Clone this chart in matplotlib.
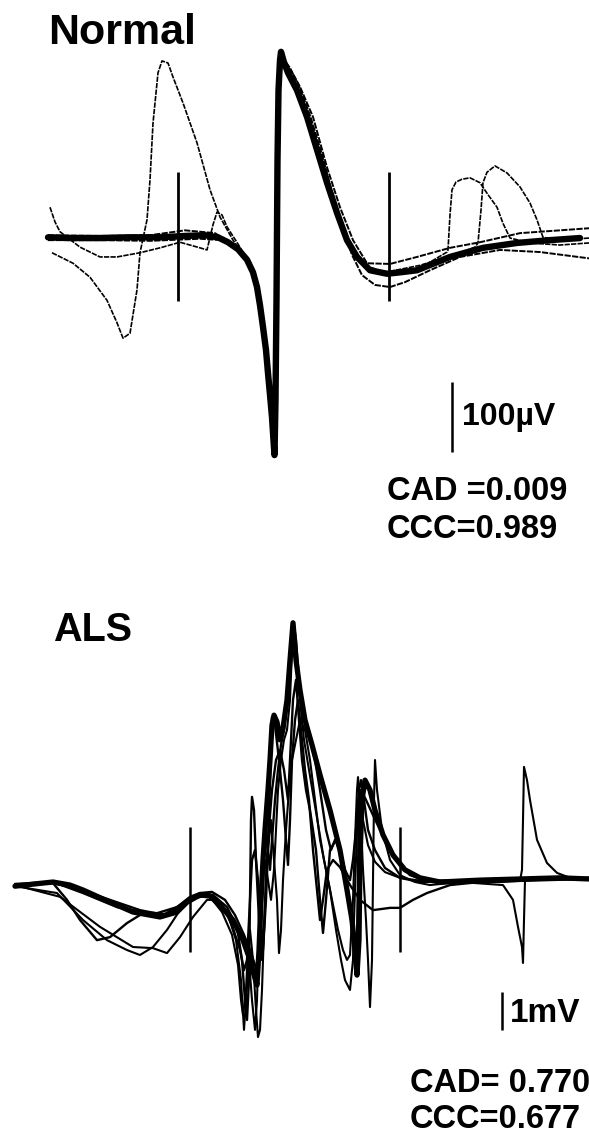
import matplotlib
matplotlib.use("Agg")
import matplotlib.pyplot as plt

plt.rcParams['font.family'] = ['Liberation Sans', 'DejaVu Sans']

# ---------------- Normal muscle: superimposed MUP sweeps (time ms, amplitude uV)
NORMAL_SWEEP_MAIN = [
    (4.8, 1), (7.0, 0), (10.0, 0), (13.0, 1), (16.0, 1), (18.5, 3), (20.5, 4),
    (21.8, 1), (22.8, -6), (23.8, -16), (24.7, -31), (25.3, -49), (25.7, -70),
    (26.0, -96), (26.3, -127), (26.6, -160), (26.8, -193), (27.0, -224),
    (27.2, -256), (27.35, -289), (27.45, -310), (27.55, -231), (27.65, -89),
    (27.75, 111), (27.85, 211), (28.0, 254), (28.1, 266), (28.4, 251),
    (28.8, 236), (29.7, 211), (30.7, 173), (31.7, 126), (32.7, 79), (33.7, 36),
    (34.7, -3), (35.7, -27), (37.0, -46), (38.7, -51), (40.0, -49), (41.7, -46),
    (45.0, -27), (48.3, -14), (51.7, -7), (55.0, -3), (58.0, 0),
]
NORMAL_SWEEP_LOW = [
    (4.8, -3), (10.0, -3), (15.0, -4), (20.0, -1), (22.2, -3), (23.5, -13),
    (25.0, -34), (25.8, -74), (26.4, -131), (27.0, -217), (27.4, -303),
    (27.6, -117), (27.8, 169), (28.1, 261), (29.0, 243), (30.0, 214),
    (31.1, 171), (32.2, 119), (33.2, 66), (34.2, 19), (35.2, -24), (36.2, -53),
    (37.5, -67), (39.0, -70), (40.5, -63), (43.0, -46), (46.0, -27),
    (50.0, -17), (54.0, -20), (58.9, -29),
]
NORMAL_SWEEP_HIGH = [
    (4.8, 4), (10.0, 3), (15.0, 4), (18.5, 11), (20.0, 9), (21.5, 7),
    (23.0, -7), (24.5, -26), (25.5, -60), (26.2, -117), (26.8, -203),
    (27.2, -274), (27.4, -300), (27.6, -131), (27.75, 126), (28.0, 257),
    (28.5, 251), (29.2, 237), (30.0, 216), (31.3, 173), (32.7, 101), (34.0, 44),
    (35.3, -3), (36.7, -36), (39.0, -37), (41.7, -27), (45.0, -14), (48.0, -6),
    (52.0, 7), (56.0, 11), (58.9, 14),
]
NORMAL_SWEEP_EARLY = [
    (5.2, -21), (7.3, -36), (9.0, -56), (10.7, -89), (11.7, -121), (12.3, -143),
    (13.0, -136), (13.7, -74), (14.0, -21), (14.7, 26), (15.0, 83), (15.3, 164),
    (15.8, 236), (16.2, 253), (16.8, 250), (17.3, 230), (18.3, 193),
    (19.7, 136), (21.0, 69), (22.0, 30), (23.3, -3), (24.7, -31), (25.5, -60),
    (26.0, -96), (26.5, -153), (27.0, -224), (27.4, -303), (27.6, -89),
    (27.8, 197), (28.1, 263), (29.0, 237), (30.5, 183), (32.0, 111),
    (33.5, 44), (35.0, -10), (36.5, -39), (38.5, -49), (42.0, -39),
    (46.0, -21), (47.5, -13), (47.8, -7), (48.1, 40), (48.3, 79), (48.7, 94),
    (49.5, 103), (50.7, 93), (52.0, 73), (53.0, 50), (53.7, 26), (54.3, 1),
    (56.0, -3), (58.9, 0),
]
NORMAL_SWEEP_LATE = [
    (5.0, 44), (5.5, 23), (6.0, 9), (8.0, -13), (10.0, -27), (11.7, -27),
    (14.0, -21), (16.0, -14), (18.0, -6), (20.0, -14), (20.7, -17),
    (21.3, 19), (21.7, 37), (22.2, 33), (22.7, 16), (24.0, -13), (25.0, -39),
    (25.7, -74), (26.3, -131), (26.9, -210), (27.4, -306), (27.6, -117),
    (27.8, 183), (28.1, 264), (28.8, 240), (29.8, 209), (31.0, 161),
    (32.2, 104), (33.4, 50), (34.5, 4), (35.8, -31), (37.2, -49), (39.0, -53),
    (42.0, -43), (44.7, -20), (44.8, -17), (45.0, 33), (45.2, 69), (45.6, 80),
    (46.2, 84), (47.0, 86), (48.0, 79), (48.7, 64), (49.7, 44), (50.3, 21),
    (51.0, 0), (53.0, -7), (56.0, -10), (58.9, -7),
]
NORMAL_CURSORS_MS = [17.8, 38.9]
NORMAL_CURSOR_SPAN_UV = (-90, 94)

# ---------------- ALS muscle: superimposed MUP sweeps (time ms, amplitude mV)
ALS_SWEEP_1 = [
    (1.5, -0.11), (3.5, -0.05), (5.3, 0.00), (7.0, -0.08), (8.3, -0.21),
    (11.0, -0.53), (13.3, -0.79), (16.0, -0.92), (17.7, -0.79), (18.7, -0.53),
    (20.0, -0.34), (21.0, -0.37), (22.0, -0.61), (23.3, -1.00), (24.3, -1.53),
    (25.0, -2.05), (25.4, -2.45), (25.7, -2.71), (25.9, -1.79), (26.1, -0.47),
    (26.3, 0.58), (26.5, 1.37), (26.8, 2.42), (27.0, 3.21), (27.2, 4.13),
    (27.4, 4.39), (27.7, 4.21), (28.0, 3.74), (28.3, 4.05), (28.7, 4.79),
    (29.0, 5.84), (29.3, 6.82), (29.6, 5.84), (30.0, 5.05), (30.5, 4.26),
    (31.2, 3.61), (32.0, 2.82), (33.0, 1.89), (34.0, 0.84), (34.7, -0.21),
    (35.2, -1.00), (35.5, -1.79), (35.7, -2.45), (35.9, -1.53), (36.0, 0.58),
    (36.2, 2.16), (36.5, 2.68), (37.0, 2.42), (37.5, 1.89), (38.3, 1.24),
    (39.3, 0.71), (40.5, 0.32), (42.0, 0.11), (44.0, 0.00), (48.0, 0.05),
    (52.0, 0.08), (56.0, 0.11), (58.9, 0.08),
]
ALS_SWEEP_2 = [
    (1.5, -0.08), (5.3, -0.03), (6.7, -0.47), (8.0, -1.00), (9.7, -1.53),
    (11.0, -1.45), (12.7, -1.08), (14.3, -0.82), (16.5, -0.84), (18.0, -0.61),
    (19.0, -0.42), (20.0, -0.29), (21.3, -0.34), (22.7, -0.66), (23.7, -1.18),
    (24.2, -2.05), (24.5, -3.11), (24.7, -3.63), (24.9, -2.58), (25.0, -0.47),
    (25.1, 1.63), (25.2, 2.24), (25.4, 1.89), (25.6, 0.58), (25.8, -0.47),
    (26.0, -1.53), (26.2, -2.05), (26.4, -1.26), (26.6, 0.05), (26.8, 1.11),
    (27.2, 2.42), (27.6, 3.21), (28.0, 3.47), (28.4, 2.95), (28.8, 2.16),
    (29.0, 3.21), (29.3, 4.79), (29.6, 5.32), (29.9, 4.26), (30.2, 3.21),
    (30.6, 2.42), (31.0, 1.89), (31.6, 0.84), (32.0, -0.47), (32.3, -1.34),
    (32.6, -0.47), (33.0, 0.84), (33.6, 1.11), (34.2, 0.58), (34.8, -0.21),
    (35.2, -1.26), (35.5, -2.05), (35.7, -1.53), (35.8, 0.05), (35.9, 2.42),
    (36.1, 2.68), (36.4, 2.16), (36.8, 1.37), (37.5, 0.84), (38.5, 0.37),
    (40.0, 0.11), (42.0, 0.00), (45.0, 0.03), (50.0, 0.05), (54.0, 0.08),
    (58.9, 0.08),
]
ALS_SWEEP_3 = [
    (1.5, -0.11), (5.7, -0.29), (8.3, -1.00), (10.7, -1.53), (12.7, -1.79),
    (14.0, -1.92), (15.3, -1.71), (16.7, -1.26), (18.0, -0.74), (19.0, -0.47),
    (20.0, -0.37), (21.0, -0.39), (22.2, -0.79), (23.2, -1.39), (23.8, -2.18),
    (24.1, -3.11), (24.3, -3.50), (24.6, -2.84), (24.8, -1.79), (25.0, -1.26),
    (25.3, -2.05), (25.6, -3.37), (25.8, -4.08), (26.0, -3.89), (26.2, -2.84),
    (26.4, -1.26), (26.6, 0.05), (26.8, 0.84), (27.1, 1.63), (27.4, 0.58),
    (27.7, -0.47), (27.9, -1.87), (28.1, -1.26), (28.3, 0.05), (28.6, 1.37),
    (28.9, 2.42), (29.2, 3.21), (29.6, 3.74), (30.0, 4.26), (30.5, 4.00),
    (31.0, 3.21), (31.5, 2.16), (32.0, 1.11), (32.6, 0.32), (33.2, -0.47),
    (33.8, -1.26), (34.3, -1.79), (34.7, -2.05), (35.0, -1.92), (35.3, -0.47),
    (35.5, 1.11), (35.7, 2.42), (35.8, 2.76), (36.0, 2.16), (36.3, 0.32),
    (36.6, -1.00), (36.8, -2.05), (37.0, -3.29), (37.2, -2.05), (37.3, 0.05),
    (37.4, 2.16), (37.5, 3.21), (37.7, 2.42), (38.2, 1.37), (39.0, 0.58),
    (40.0, 0.18), (41.5, 0.00), (43.0, -0.08), (46.0, 0.00), (50.3, -0.08),
    (51.3, -0.47), (51.8, -1.18), (52.2, -1.71), (52.3, -2.13), (52.4, -1.00),
    (52.5, 0.05), (54.0, 0.08), (58.9, 0.11),
]
ALS_SWEEP_4 = [
    (1.5, -0.08), (6.0, -0.39), (10.0, -1.18), (13.3, -1.71), (15.3, -1.74),
    (16.7, -1.87), (18.0, -1.45), (19.3, -0.92), (20.7, -0.47), (21.8, -0.47),
    (22.8, -0.87), (23.6, -1.53), (24.1, -2.58), (24.4, -3.89), (24.6, -3.11),
    (24.9, -2.05), (25.2, -3.11), (25.5, -3.89), (25.7, -3.11), (25.9, -1.26),
    (26.2, 0.32), (26.5, 0.58), (26.8, 0.05), (27.1, -0.47), (27.4, 0.32),
    (27.6, 1.37), (27.8, 2.42), (28.1, 3.21), (28.4, 3.74), (28.7, 4.00),
    (29.0, 4.79), (29.2, 6.11), (29.4, 6.63), (29.7, 5.84), (30.0, 4.79),
    (30.4, 3.74), (30.9, 2.95), (31.4, 2.16), (31.9, 1.37), (32.4, 0.58),
    (33.0, -0.21), (33.6, -1.26), (34.1, -2.05), (34.5, -2.58), (35.0, -2.84),
    (35.3, -2.05), (35.4, -1.00), (35.6, 0.58), (35.8, 2.16), (36.0, 2.42),
    (36.3, 1.63), (36.8, 0.97), (37.5, 0.53), (38.5, 0.26), (40.0, 0.11),
    (43.0, 0.00), (50.0, 0.00), (52.0, 0.03), (52.2, 0.32), (52.3, 1.63),
    (52.4, 3.03), (52.7, 2.68), (53.0, 2.16), (53.7, 1.11), (54.7, 0.50),
    (55.7, 0.24), (57.0, 0.11), (58.9, 0.08),
]
ALS_SWEEP_5 = [
    (1.5, -0.05), (5.3, 0.00), (8.3, -0.29), (11.7, -0.66), (14.3, -0.79),
    (15.7, -0.82), (17.7, -0.66), (19.0, -0.39), (20.0, -0.29), (21.2, -0.26),
    (22.5, -0.47), (23.5, -0.87), (24.4, -1.39), (25.0, -1.79), (25.5, -2.18),
    (25.8, -2.45), (26.0, -1.53), (26.2, -0.47), (26.4, 0.58), (26.6, 1.24),
    (26.8, 0.84), (27.0, 0.32), (27.2, 1.11), (27.5, 2.16), (27.8, 2.95),
    (28.1, 3.61), (28.4, 4.00), (28.6, 4.53), (28.8, 5.05), (29.0, 5.58),
    (29.2, 6.37), (29.4, 6.76), (29.6, 6.37), (29.9, 5.32), (30.3, 4.53),
    (30.8, 4.00), (31.5, 3.21), (32.0, 2.42), (32.6, 1.37), (33.1, 0.84),
    (33.5, 1.11), (34.0, 0.84), (34.5, 0.32), (35.0, 0.05), (35.3, 0.58),
    (35.6, 1.37), (35.8, 1.89), (36.1, 2.42), (36.6, 2.16), (37.3, 1.76),
    (38.0, 1.37), (39.0, 0.84), (40.0, 0.45), (41.0, 0.18), (42.5, 0.05),
    (45.0, 0.03), (50.0, 0.05), (58.9, 0.11),
]
ALS_SWEEP_6 = [
    (1.5, -0.08), (5.3, -0.03), (7.5, -0.16), (11.0, -0.47), (14.0, -0.74),
    (16.5, -0.87), (18.0, -0.68), (19.5, -0.42), (21.0, -0.34), (22.2, -0.61),
    (23.2, -1.13), (24.0, -1.79), (24.4, -2.32), (24.7, -2.05), (25.0, -0.47),
    (25.2, 0.58), (25.5, 0.84), (25.8, 0.05), (26.1, -1.00), (26.3, -1.79),
    (26.6, -0.47), (26.8, 0.84), (27.0, 2.68), (27.2, 4.34), (27.5, 4.13),
    (27.9, 3.21), (28.3, 2.16), (28.6, 1.11), (28.8, 0.45), (29.0, 1.63),
    (29.2, 3.21), (29.5, 4.26), (29.8, 4.79), (30.1, 4.00), (30.5, 2.95),
    (30.9, 2.16), (31.3, 0.84), (31.7, -0.21), (32.0, -1.00), (32.3, -0.47),
    (32.7, 0.32), (33.3, 0.58), (34.0, 0.39), (35.0, -0.08), (36.0, -0.47),
    (37.3, -0.74), (39.0, -0.68), (40.0, -0.68), (41.3, -0.47), (42.7, -0.29),
    (45.0, -0.08), (48.0, 0.00), (58.9, 0.08),
]
ALS_CURSORS_MS = [19.0, 40.0]
ALS_CURSOR_SPAN_MV = (-1.85, 1.45)

fig = plt.figure(figsize=(5.89, 11.34), dpi=100)
fig.patch.set_facecolor('white')

ax_top = fig.add_axes([0, 1 - 600 / 1134, 1, 600 / 1134])
ax_bot = fig.add_axes([0, 0, 1, 534 / 1134])
for ax in (ax_top, ax_bot):
    ax.set_axis_off()
    ax.set_xlim(0, 58.9)
ax_top.set_ylim(-517, 340)
ax_bot.set_ylim(-6.63, 7.42)


def draw(ax, pts, lw, ls='-'):
    t = [p[0] for p in pts]
    v = [p[1] for p in pts]
    ax.plot(t, v, color='black', lw=lw, ls=ls, solid_joinstyle='round',
            solid_capstyle='round', dash_capstyle='butt')


dotted = (0, (3.2, 0.7))

# Normal panel
draw(ax_top, NORMAL_SWEEP_LOW, 1.4, dotted)
draw(ax_top, NORMAL_SWEEP_HIGH, 1.4, dotted)
draw(ax_top, NORMAL_SWEEP_EARLY, 1.2, dotted)
draw(ax_top, NORMAL_SWEEP_LATE, 1.2, dotted)
draw(ax_top, NORMAL_SWEEP_MAIN, 4.6)
ax_top.vlines(NORMAL_CURSORS_MS, *NORMAL_CURSOR_SPAN_UV, color='black', lw=2.0)

# ALS panel
draw(ax_bot, ALS_SWEEP_2, 1.7)
draw(ax_bot, ALS_SWEEP_3, 1.5)
draw(ax_bot, ALS_SWEEP_4, 1.5)
draw(ax_bot, ALS_SWEEP_5, 1.7)
draw(ax_bot, ALS_SWEEP_6, 1.7)
draw(ax_bot, ALS_SWEEP_1, 3.8)
ax_bot.vlines(ALS_CURSORS_MS, *ALS_CURSOR_SPAN_MV, color='black', lw=1.8)

# Calibration bars
ax_top.vlines(45.2, -306, -306 + 100, color='black', lw=1.8)
ax_bot.vlines(50.2, -3.9, -3.9 + 1.0, color='black', lw=1.8)


def ftext(px, py, s, size, weight='bold'):
    fig.text(px / 589, 1 - py / 1134, s, fontsize=size, fontweight=weight,
             ha='left', va='baseline', color='black')


ftext(48, 44, 'Normal', 31)
ftext(462, 425, '100µV', 23)
ftext(387, 500, 'CAD =0.009', 23.5)
ftext(387, 538, 'CCC=0.989', 23.5)

ftext(53, 641, 'ALS', 28.5)
ftext(510, 1022, '1mV', 24)
ftext(410, 1092, 'CAD= 0.770', 23.5)
ftext(410, 1128, 'CCC=0.677', 23.5)

fig.savefig('out.png', dpi=100, facecolor='white')
